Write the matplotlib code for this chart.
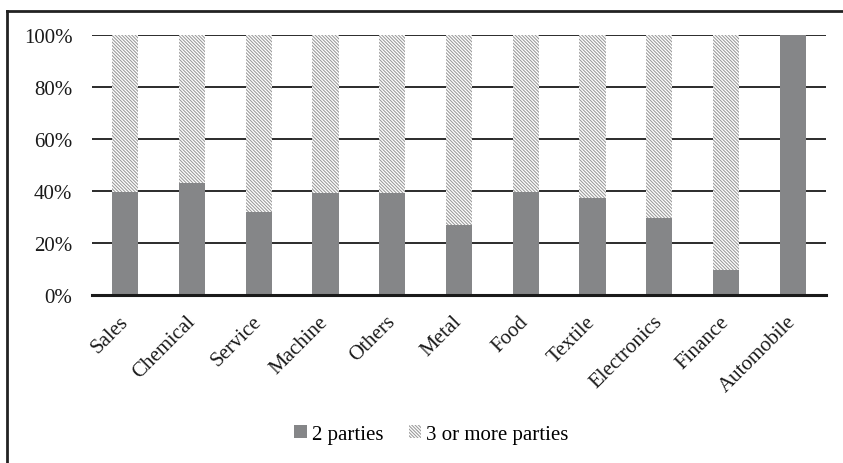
import matplotlib
matplotlib.use('Agg')
import matplotlib.pyplot as plt
from matplotlib.lines import Line2D
from matplotlib.ticker import PercentFormatter

plt.rcParams['font.family'] = ['Liberation Serif', 'DejaVu Serif']
plt.rcParams['hatch.linewidth'] = 0.75

# share of cases by industry (percent)
categories = ['Sales', 'Chemical', 'Service', 'Machine', 'Others', 'Metal',
              'Food', 'Textile', 'Electronics', 'Finance', 'Automobile']
two_parties = [39.6, 43.1, 32.0, 39.3, 39.3, 26.9, 39.6, 37.2, 29.6, 9.6, 100.0]
three_more = [100 - v for v in two_parties]

fig = plt.figure(figsize=(8.43, 4.64), dpi=100)
ax = fig.add_axes([0.109, 0.362, 0.871, 0.560])

x = range(len(categories))
b1 = ax.bar(x, two_parties, width=0.39, color='#858688', label='2 parties', zorder=3)
b2 = ax.bar(x, three_more, width=0.39, bottom=two_parties, color='white',
            edgecolor='#999999', linewidth=0, hatch='\\\\\\\\\\\\\\\\\\\\',
            label='3 or more parties', zorder=3)

ax.set_ylim(0, 100)
ax.set_xlim(-0.5, len(categories) - 0.5)
ax.set_yticks([0, 20, 40, 60, 80, 100])
ax.yaxis.set_major_formatter(PercentFormatter(decimals=0))
ax.grid(axis='y', color='#1a1a1a', linewidth=1.3, zorder=0)
ax.set_axisbelow(True)
for s in ['top', 'right', 'left']:
    ax.spines[s].set_visible(False)
ax.spines['bottom'].set_linewidth(2.2)
ax.spines['bottom'].set_color('#1a1a1a')
ax.spines['bottom'].set_zorder(4)
ax.tick_params(axis='both', length=0, labelsize=15, colors='#1a1a1a')
ax.tick_params(axis='y', pad=14)
ax.tick_params(axis='x', pad=17)
ax.set_xticks(list(x))
ax.set_xticklabels(categories, rotation=45, ha='right', va='center',
                   rotation_mode='anchor')

fig.legend(handles=[b1, b2], loc='center', bbox_to_anchor=(0.512, 0.062),
           ncol=2, frameon=False, fontsize=15, handlelength=0.6,
           handleheight=0.6, handletextpad=0.25, columnspacing=1.2)

# chart border (only top and left edges visible in the crop)
fig.add_artist(Line2D([0.0083, 0.0083], [0, 0.974], color='#222222', lw=2.0,
                      transform=fig.transFigure))
fig.add_artist(Line2D([0.0083, 1.0], [0.974, 0.974], color='#222222', lw=2.0,
                      transform=fig.transFigure))

fig.savefig('out.png', dpi=100)
